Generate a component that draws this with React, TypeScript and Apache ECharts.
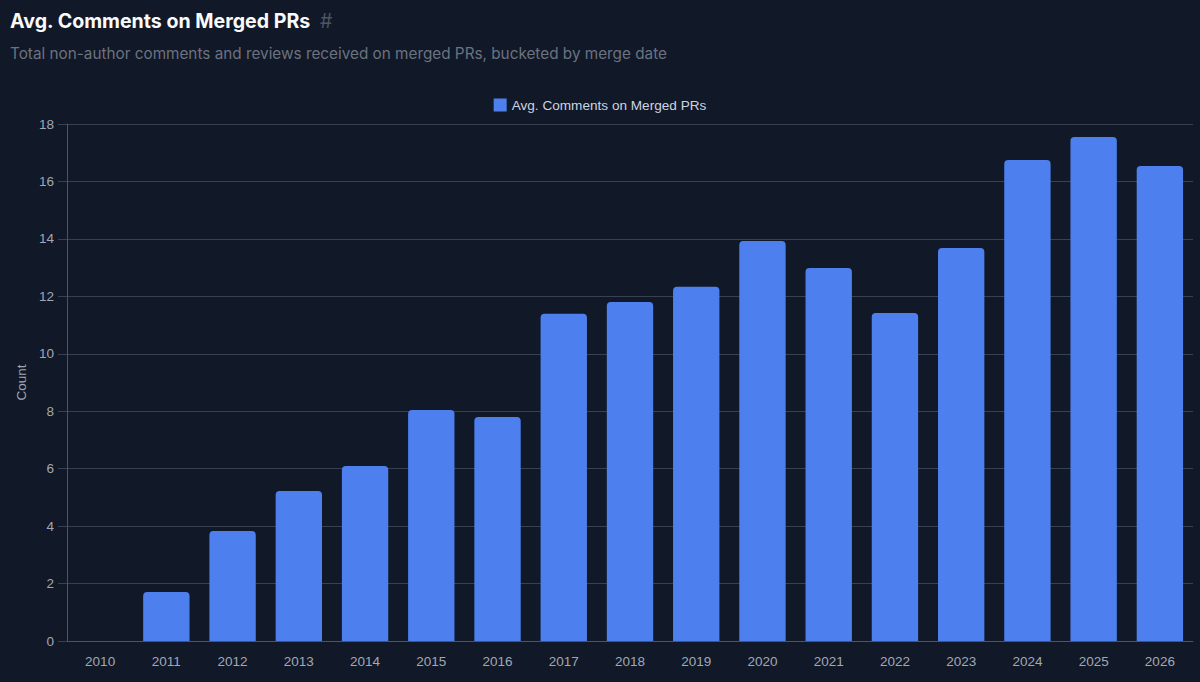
import React, { useEffect, useRef } from "react";
import * as echarts from "echarts";

const years = ["2010","2011","2012","2013","2014","2015","2016","2017","2018","2019","2020","2021","2022","2023","2024","2025","2026"];
const avgComments = [0, 1.71, 3.83, 5.22, 6.09, 8.04, 7.8, 11.39, 11.8, 12.33, 13.93, 12.99, 11.42, 13.68, 16.75, 17.55, 16.54];
const seriesName = "Avg. Comments on Merged PRs";
const titleText = "Avg. Comments on Merged PRs";
const subtitleText = "Total non-author comments and reviews received on merged PRs, bucketed by merge date";

export default function App() {
  const ref = useRef<HTMLDivElement>(null);
  useEffect(() => {
    document.body.style.margin = "0";
    document.body.style.background = "#111827";
    const chart = echarts.init(ref.current!, null, { renderer: "svg" });
    chart.setOption({
      animation: false,
      backgroundColor: "#111827",
      textStyle: { fontFamily: "Liberation Sans, Arial, sans-serif" },
      title: {
        left: 5,
        top: 6,
        text: "{a|" + titleText + "}{b|#}",
        subtext: subtitleText,
        itemGap: 15,
        textStyle: {
          rich: {
            a: { fontFamily: "Inter, sans-serif", fontSize: 19.6, fontWeight: 700, color: "#f9fafb" },
            b: { fontFamily: "Inter, sans-serif", fontSize: 19.6, fontWeight: 400, color: "#4b5563", padding: [0, 0, 0, 9] },
          },
        },
        subtextStyle: { fontFamily: "Inter, sans-serif", fontSize: 15.3, color: "#6b7280" },
      },
      legend: {
        top: 93,
        left: "center",
        itemWidth: 13,
        itemHeight: 13,
        itemGap: 8,
        textStyle: { color: "#cbd5e1", fontSize: 13.6 },
        data: [{ name: seriesName, icon: "rect" }],
      },
      grid: { left: 67, right: 7, top: 124, bottom: 41, containLabel: false },
      xAxis: {
        type: "category",
        data: years,
        axisLine: { lineStyle: { color: "#4b5563" } },
        axisTick: { show: false },
        axisLabel: { color: "#a1a8b5", fontSize: 13.5, margin: 13 },
      },
      yAxis: {
        type: "value",
        min: 0,
        max: 18,
        interval: 2,
        name: "Count",
        nameLocation: "middle",
        nameGap: 39,
        nameTextStyle: { color: "#a1a8b5", fontSize: 13.5 },
        axisLine: { show: true, lineStyle: { color: "#4b5563" } },
        axisTick: { show: true, length: 9, lineStyle: { color: "#374151" } },
        axisLabel: { color: "#a1a8b5", fontSize: 13.5, margin: 13 },
        splitLine: { lineStyle: { color: "#374151" } },
      },
      series: [
        {
          name: seriesName,
          type: "bar",
          data: avgComments,
          barWidth: "70%",
          itemStyle: { color: "#4d80ee", borderRadius: [4, 4, 0, 0] },
        },
      ],
    });
    return () => chart.dispose();
  }, []);
  return <div ref={ref} style={{ width: 1200, height: 682 }} />;
}
